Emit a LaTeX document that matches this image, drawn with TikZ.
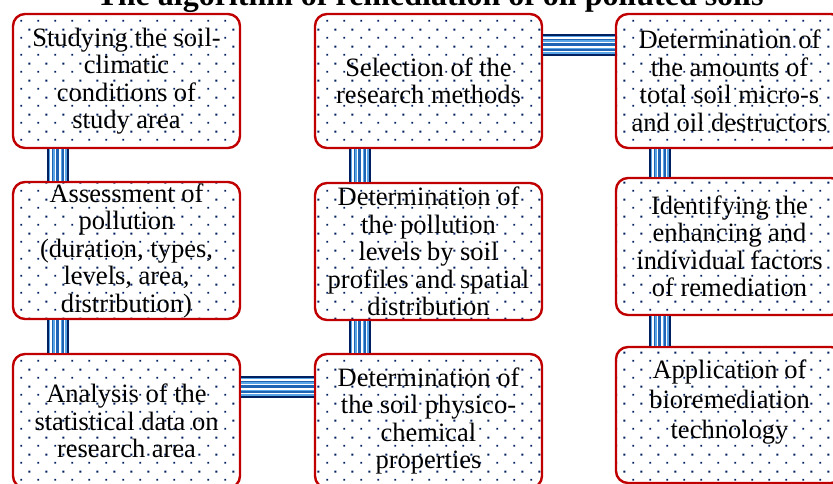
\documentclass[tikz,border=0pt]{standalone}
\usepackage{fontspec}
\setmainfont{Liberation Serif}
\usetikzlibrary{patterns.meta}
\definecolor{boxred}{HTML}{C00000}
\definecolor{navyb}{HTML}{002060}
\definecolor{lightb}{HTML}{5AA5E6}
\definecolor{midb}{HTML}{1F64B4}
\tikzdeclarepattern{
  name=sdots,
  type=uncolored,
  bounding box={(0pt,0pt) and (17pt,17pt)},
  tile size={(17pt,17pt)},
  code={
    \pgfpathrectangle{\pgfpoint{3.5pt}{3.5pt}}{\pgfpoint{2pt}{2pt}}
    \pgfpathrectangle{\pgfpoint{12pt}{12pt}}{\pgfpoint{2pt}{2pt}}
    \pgfusepath{fill}
  }
}
\tikzset{
  stepbox/.style={draw=boxred, line width=2.4pt, rounded corners=12pt,
    pattern={sdots}, pattern color=navyb, minimum width=227pt,
    inner sep=0pt, align=center, text=black,
    font=\fontsize{26.5}{27.5}\selectfont},
  stripes/.style={line width=22pt, draw=navyb,
    postaction={draw=lightb, line width=18pt},
    postaction={draw=white, line width=15pt},
    postaction={draw=midb, line width=12pt},
    postaction={draw=lightb, line width=9pt},
    postaction={draw=white, line width=6pt},
    postaction={draw=midb, line width=3pt}},
  titlestyle/.style={font=\bfseries\fontsize{32}{34}\selectfont, anchor=base, inner sep=0pt}
}
\begin{document}
\begin{tikzpicture}[x=1pt, y=-1pt]
\useasboundingbox (0,0) rectangle (833,484);
\clip (0,0) rectangle (833,484);
\fill[white] (0,0) rectangle (833,484);

\node[titlestyle] (title) at (430,6) {The algorithm of remediation of oil polluted soils};

% column 1
\node[stepbox, minimum height=134pt] (a1) at (126.5,81)
  {Studying the soil-\\climatic\\conditions of\\study area};
\node[stepbox, minimum height=137pt] (a2) at (126.5,250.5)
  {Assessment of\\pollution\\(duration, types,\\levels, area,\\distribution)};
\node[stepbox, minimum height=134pt] (a3) at (126.5,421)
  {Analysis of the\\statistical data on\\research area};

% column 2
\node[stepbox, minimum height=134pt] (b1) at (428.5,81)
  {Selection of the\\research methods};
\node[stepbox, minimum height=137pt] (b2) at (428.5,251.5)
  {Determination of\\the pollution\\levels by soil\\profiles and spatial\\distribution};
\node[stepbox, minimum height=134pt] (b3) at (428.5,421)
  {Determination of\\the soil physico-\\chemical\\properties};

% column 3
\node[stepbox, minimum height=134pt] (c1) at (729.5,81)
  {Determination of\\the amounts of\\total soil micro-s\\and oil destructors};
\node[stepbox, minimum height=137pt] (c2) at (729.5,246.5)
  {Identifying the\\enhancing and\\individual factors\\of remediation};
\node[stepbox, minimum height=136pt,
  label={[align=center, yshift=13pt, font=\fontsize{26.5}{27.5}\selectfont]center:Application of\\[2.5pt]bioremediation\\[2.5pt]technology}]
  (c3) at (729.5,415) {};

% connectors
\draw[stripes] ([xshift=46pt]a1.south west) -- ([xshift=46pt]a2.north west);
\draw[stripes] ([xshift=46pt]a2.south west) -- ([xshift=46pt]a3.north west);
\draw[stripes] ([xshift=46pt]b1.south west) -- ([xshift=46pt]b2.north west);
\draw[stripes] ([xshift=46pt]b2.south west) -- ([xshift=46pt]b3.north west);
\draw[stripes] ([xshift=45pt]c1.south west) -- ([xshift=45pt]c2.north west);
\draw[stripes] ([xshift=45pt]c2.south west) -- ([xshift=45pt]c3.north west);
\draw[stripes] ([yshift=-32pt]b1.north east) -- ([yshift=-32pt]c1.north west);
\draw[stripes] ([yshift=-34pt]a3.north east) -- ([yshift=-34pt]b3.north west);
\end{tikzpicture}
\end{document}
